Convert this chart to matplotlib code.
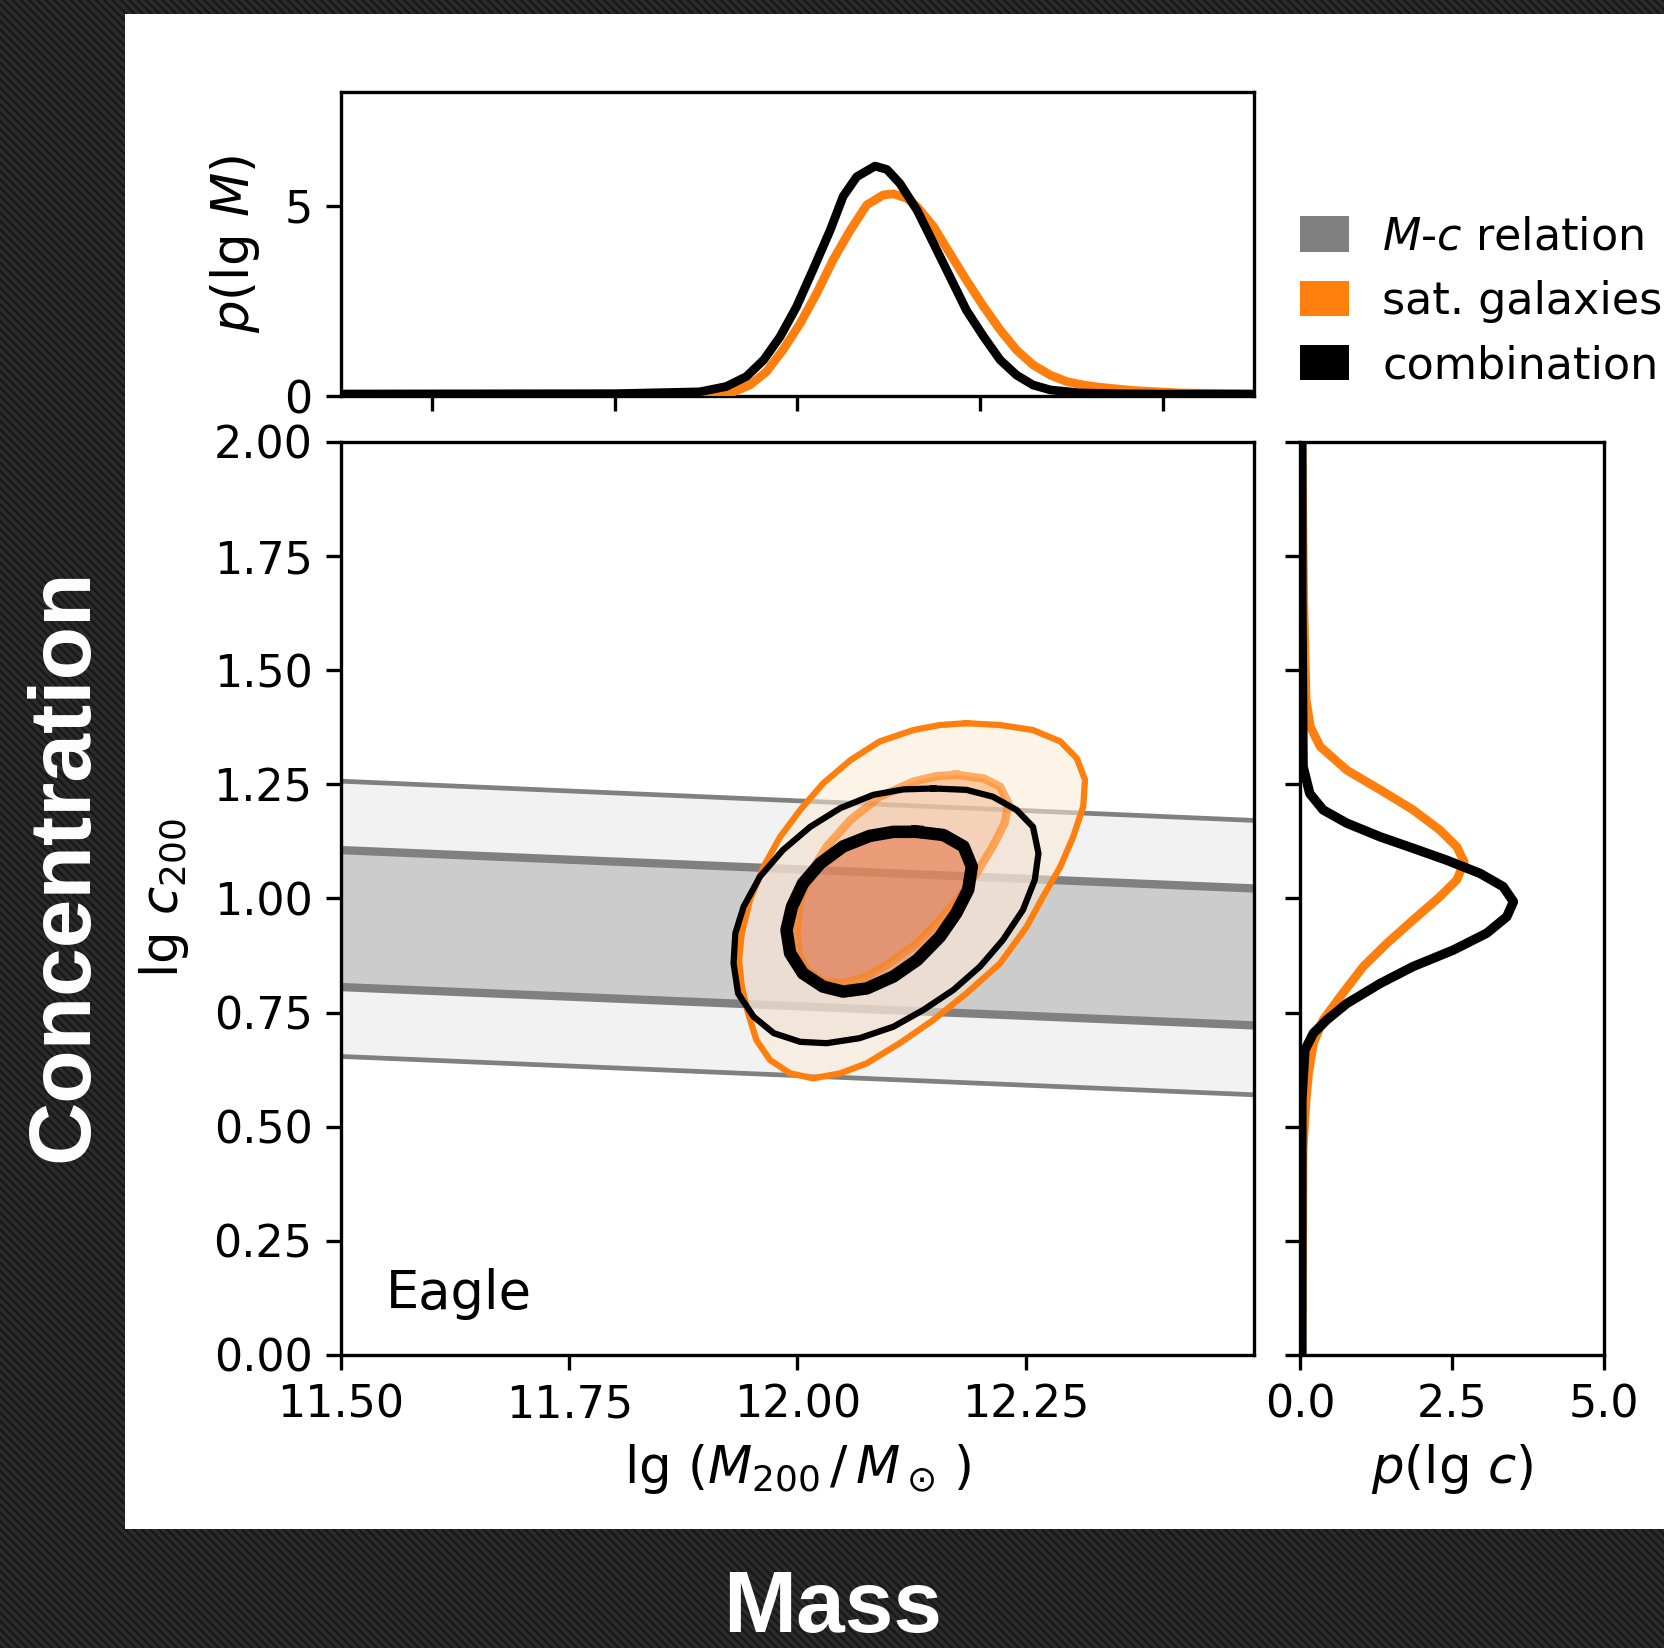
import numpy as np
import matplotlib
matplotlib.use("Agg")
from matplotlib import pyplot as plt
from matplotlib.patches import Rectangle, Polygon, PathPatch, Patch
from matplotlib.path import Path

# M-c relation band (lg c at the two ends of the mass range)
mc_mass = [11.5, 12.5]
mc_outer_lo = [0.654, 0.570]
mc_inner_lo = [0.806, 0.722]
mc_inner_hi = [1.106, 1.022]
mc_outer_hi = [1.257, 1.171]

# satellite galaxies, outer (95%) contour
sat_out_M = [12.185, 12.222, 12.258, 12.288, 12.306, 12.315, 12.313, 12.302, 12.288, 12.269,
             12.251, 12.222, 12.185, 12.149, 12.112, 12.076, 12.047, 12.017, 11.992, 11.970,
             11.955, 11.946, 11.939, 11.936, 11.939, 11.948, 11.963, 11.981, 12.003, 12.028,
             12.058, 12.090, 12.127, 12.156]
sat_out_c = [1.384, 1.380, 1.369, 1.344, 1.307, 1.260, 1.201, 1.135, 1.070, 1.004,
             0.938, 0.858, 0.792, 0.734, 0.683, 0.639, 0.617, 0.606, 0.617, 0.646,
             0.690, 0.748, 0.807, 0.865, 0.924, 0.997, 1.070, 1.135, 1.194, 1.252,
             1.303, 1.344, 1.369, 1.380]
# satellite galaxies, inner (68%) contour
sat_in_M = [12.174, 12.204, 12.222, 12.231, 12.227, 12.214, 12.196, 12.178, 12.156, 12.131,
            12.101, 12.076, 12.050, 12.028, 12.010, 12.001, 11.999, 12.003, 12.014, 12.032,
            12.058, 12.090, 12.127, 12.152]
sat_in_c = [1.271, 1.263, 1.245, 1.208, 1.165, 1.114, 1.055, 1.004, 0.953, 0.902,
            0.858, 0.829, 0.814, 0.818, 0.843, 0.880, 0.931, 0.997, 1.055, 1.114,
            1.172, 1.223, 1.256, 1.268]
# combination, outer contour
comb_out_M = [12.149, 12.185, 12.214, 12.240, 12.258, 12.264, 12.260, 12.247, 12.225, 12.200,
              12.171, 12.138, 12.105, 12.068, 12.032, 12.003, 11.974, 11.952, 11.935, 11.930,
              11.932, 11.941, 11.959, 11.984, 12.014, 12.047, 12.083, 12.116]
comb_out_c = [1.241, 1.238, 1.223, 1.194, 1.157, 1.099, 1.041, 0.975, 0.909, 0.851,
              0.800, 0.756, 0.719, 0.694, 0.683, 0.686, 0.705, 0.741, 0.792, 0.858,
              0.924, 0.982, 1.048, 1.106, 1.157, 1.198, 1.227, 1.239]
# combination, inner contour
comb_in_M = [12.131, 12.160, 12.182, 12.191, 12.187, 12.174, 12.156, 12.131, 12.105, 12.076,
             12.050, 12.028, 12.006, 11.992, 11.988, 11.994, 12.006, 12.025, 12.050, 12.079,
             12.105]
comb_in_c = [1.146, 1.139, 1.114, 1.070, 1.019, 0.968, 0.916, 0.865, 0.829, 0.803,
             0.796, 0.807, 0.836, 0.880, 0.931, 0.982, 1.033, 1.077, 1.114, 1.137,
             1.146]

# marginal p(lg M)
comb_M = [11.50, 11.80, 11.893, 11.922, 11.944, 11.963, 11.981, 11.999, 12.017, 12.036,
          12.050, 12.065, 12.085, 12.098, 12.112, 12.131, 12.149, 12.167, 12.185, 12.204,
          12.222, 12.240, 12.258, 12.277, 12.31, 12.35, 12.40, 12.50]
pM_comb = [0.05, 0.06, 0.11, 0.25, 0.51, 0.95, 1.56, 2.35, 3.32, 4.37,
           5.25, 5.77, 6.05, 5.96, 5.60, 4.89, 4.02, 3.14, 2.26, 1.56,
           0.95, 0.55, 0.29, 0.16, 0.08, 0.06, 0.05, 0.05]
sat_M = [11.50, 11.85, 11.90, 11.930, 11.948, 11.966, 11.984, 12.003, 12.021, 12.039,
         12.058, 12.076, 12.094, 12.105, 12.120, 12.131, 12.149, 12.167, 12.185, 12.204,
         12.222, 12.240, 12.258, 12.277, 12.295, 12.313, 12.331, 12.37, 12.42, 12.50]
pM_sat = [0.05, 0.05, 0.06, 0.11, 0.29, 0.64, 1.21, 1.91, 2.70, 3.58,
          4.37, 5.03, 5.29, 5.32, 5.20, 4.98, 4.46, 3.75, 3.05, 2.35,
          1.74, 1.21, 0.82, 0.55, 0.38, 0.29, 0.23, 0.14, 0.08, 0.05]

# marginal p(lg c)
comb_lgc = [2.00, 1.654, 1.289, 1.230, 1.194, 1.165, 1.135, 1.110, 1.084, 1.055,
            1.026, 0.993, 0.960, 0.924, 0.887, 0.851, 0.814, 0.770, 0.734, 0.705,
            0.668, 0.559, 0.00]
pc_comb = [0.03, 0.03, 0.05, 0.16, 0.38, 0.77, 1.32, 1.86, 2.41, 2.96,
           3.34, 3.51, 3.40, 3.07, 2.52, 1.86, 1.32, 0.77, 0.44, 0.22,
           0.08, 0.03, 0.03]
sat_lgc = [2.00, 1.654, 1.435, 1.376, 1.333, 1.281, 1.238, 1.194, 1.150, 1.113,
           1.080, 1.041, 1.004, 0.953, 0.902, 0.851, 0.785, 0.734, 0.683, 0.617,
           0.559, 0.45, 0.00]
pc_sat = [0.03, 0.06, 0.10, 0.17, 0.33, 0.77, 1.32, 1.86, 2.30, 2.58,
          2.70, 2.58, 2.30, 1.86, 1.43, 1.04, 0.66, 0.38, 0.22, 0.14,
          0.10, 0.05, 0.03]

ORANGE = "#ff7f0e"
GREY = "#808080"
FS = 32
LW_AX = 2.4

plt.rcParams["hatch.linewidth"] = 2.6
plt.rcParams["font.family"] = "DejaVu Sans"
plt.rcParams["mathtext.fontset"] = "dejavusans"


def closed(x, y):
    xy = np.column_stack([x, y])
    return np.vstack([xy, xy[:1]])


def signed_area(xy):
    x, y = xy[:, 0], xy[:, 1]
    return 0.5 * np.sum(x[:-1] * y[1:] - x[1:] * y[:-1])


def ring_patch(ox, oy, ix, iy, **kw):
    outer = closed(ox, oy)
    inner = closed(ix, iy)
    if signed_area(outer) < 0:
        outer = outer[::-1]
    if signed_area(inner) > 0:
        inner = inner[::-1]
    verts = np.vstack([outer, inner])
    codes = ([Path.MOVETO] + [Path.LINETO] * (len(outer) - 2) + [Path.CLOSEPOLY]
             + [Path.MOVETO] + [Path.LINETO] * (len(inner) - 2) + [Path.CLOSEPOLY])
    return PathPatch(Path(verts, codes), **kw)


def style_axes(ax):
    for s in ax.spines.values():
        s.set_linewidth(LW_AX)
    ax.tick_params(direction="out", length=10.5, width=LW_AX, pad=10, labelsize=FS)


fig = plt.figure(figsize=(16.65, 16.48), dpi=100, facecolor="#1b1b1b")

# striped backdrop and white panel
fig.patches.append(Rectangle((0, 0), 1, 1, transform=fig.transFigure, facecolor="#171717",
                             edgecolor="#2b2b2b", hatch="\\\\\\\\", lw=0, zorder=-10))
fig.patches.append(Rectangle((0.0751, 0.0722), 0.93, 0.9193, transform=fig.transFigure,
                             facecolor="white", edgecolor="none", zorder=-5))

ax = fig.add_axes([0.2048, 0.1778, 0.5483, 0.5540])
ax_top = fig.add_axes([0.2048, 0.7597, 0.5483, 0.1845])
ax_right = fig.add_axes([0.7808, 0.1778, 0.1826, 0.5540])

# M-c relation band
ax.fill_between(mc_mass, mc_outer_lo, mc_outer_hi, color="#f2f2f2", lw=0, zorder=1)
ax.fill_between(mc_mass, mc_inner_lo, mc_inner_hi, color="#cccccc", lw=0, zorder=1.1)
for edge in (mc_outer_lo, mc_outer_hi):
    ax.plot(mc_mass, edge, color=GREY, lw=3.4, zorder=2)
for edge in (mc_inner_lo, mc_inner_hi):
    ax.plot(mc_mass, edge, color=GREY, lw=6.0, zorder=2)

# filled credible regions
a = 0.55
ax.add_patch(ring_patch(sat_out_M, sat_out_c, sat_in_M, sat_in_c,
                        facecolor="#faebd5", edgecolor="none", alpha=a, zorder=3))
ax.add_patch(Polygon(closed(sat_in_M, sat_in_c), closed=True,
                     facecolor="#ff9f50", edgecolor="none", alpha=a, zorder=3))
ax.add_patch(ring_patch(comb_out_M, comb_out_c, comb_in_M, comb_in_c,
                        facecolor="#f0ded4", edgecolor="none", alpha=a, zorder=3.1))
ax.add_patch(Polygon(closed(comb_in_M, comb_in_c), closed=True,
                     facecolor="#e07e62", edgecolor="none", alpha=a, zorder=3.1))

# contour outlines
xy = closed(sat_out_M, sat_out_c)
ax.plot(xy[:, 0], xy[:, 1], color=ORANGE, lw=4.5, solid_joinstyle="round", zorder=4)
xy = closed(sat_in_M, sat_in_c)
ax.plot(xy[:, 0], xy[:, 1], color=ORANGE, lw=6.0, alpha=0.6, solid_joinstyle="round", zorder=4)
xy = closed(comb_out_M, comb_out_c)
ax.plot(xy[:, 0], xy[:, 1], color="black", lw=4.5, solid_joinstyle="round", zorder=4.1)
xy = closed(comb_in_M, comb_in_c)
ax.plot(xy[:, 0], xy[:, 1], color="black", lw=9.0, solid_joinstyle="round", zorder=4.1)

ax.text(11.5495, 0.10, "Eagle", fontsize=38, ha="left", va="baseline")

ax.set_xlim(11.5, 12.5)
ax.set_ylim(0, 2)
ax.set_xticks([11.5, 11.75, 12.0, 12.25])
ax.set_xticklabels(["11.50", "11.75", "12.00", "12.25"])
ax.set_yticks(np.arange(0, 2.01, 0.25))
ax.set_yticklabels([f"{v:.2f}" for v in np.arange(0, 2.01, 0.25)])
ax.set_xlabel(r"lg $(M_{200}\,/\,M_\odot\,)$", fontsize=37, labelpad=11.5)
ax.set_ylabel(r"lg $c_{200}$", fontsize=37, labelpad=16)
style_axes(ax)

# mass marginal
ax_top.plot(sat_M, pM_sat, color=ORANGE, lw=6.3, solid_joinstyle="round", zorder=3)
ax_top.plot(comb_M, pM_comb, color="black", lw=6.3, solid_joinstyle="round", zorder=4)
ax_top.set_xlim(11.5, 12.5)
ax_top.set_ylim(0, 8)
ax_top.set_xticks([11.6, 11.8, 12.0, 12.2, 12.4])
ax_top.set_xticklabels([])
ax_top.set_yticks([0, 5])
ax_top.set_ylabel(r"$p(\lg\,M)$", fontsize=37, labelpad=16)
style_axes(ax_top)

# concentration marginal
ax_right.plot(pc_sat, sat_lgc, color=ORANGE, lw=6.3, solid_joinstyle="round", zorder=3)
ax_right.plot(pc_comb, comb_lgc, color="black", lw=6.8, solid_joinstyle="round", zorder=4)
ax_right.set_xlim(0, 5)
ax_right.set_ylim(0, 2)
ax_right.set_xticks([0, 2.5, 5])
ax_right.set_xticklabels(["0.0", "2.5", "5.0"])
ax_right.set_yticks(np.arange(0, 2.01, 0.25))
ax_right.set_yticklabels([])
ax_right.set_xlabel(r"$p(\lg\,c)$", fontsize=37, labelpad=11.5)
style_axes(ax_right)

handles = [Patch(facecolor=GREY, edgecolor="none"),
           Patch(facecolor=ORANGE, edgecolor="none"),
           Patch(facecolor="black", edgecolor="none")]
fig.legend(handles, [r"$M$-$c$ relation", "sat. galaxies", "combination"],
           loc="upper left", bbox_to_anchor=(0.7808, 0.8693), frameon=False,
           fontsize=FS, borderpad=0, borderaxespad=0, handlelength=1.1,
           handleheight=0.85, handletextpad=0.75, labelspacing=0.48)

# headline words on the backdrop
big = dict(family=["Liberation Sans", "DejaVu Sans"], fontweight="bold", fontsize=63, color="white")
fig.text(0.039, 0.4747, "Concentration", rotation=90, ha="center", va="center", **big)
fig.text(0.5003, 0.0095, "Mass", ha="center", va="baseline", **big)

fig.savefig("out.png", dpi=100)
